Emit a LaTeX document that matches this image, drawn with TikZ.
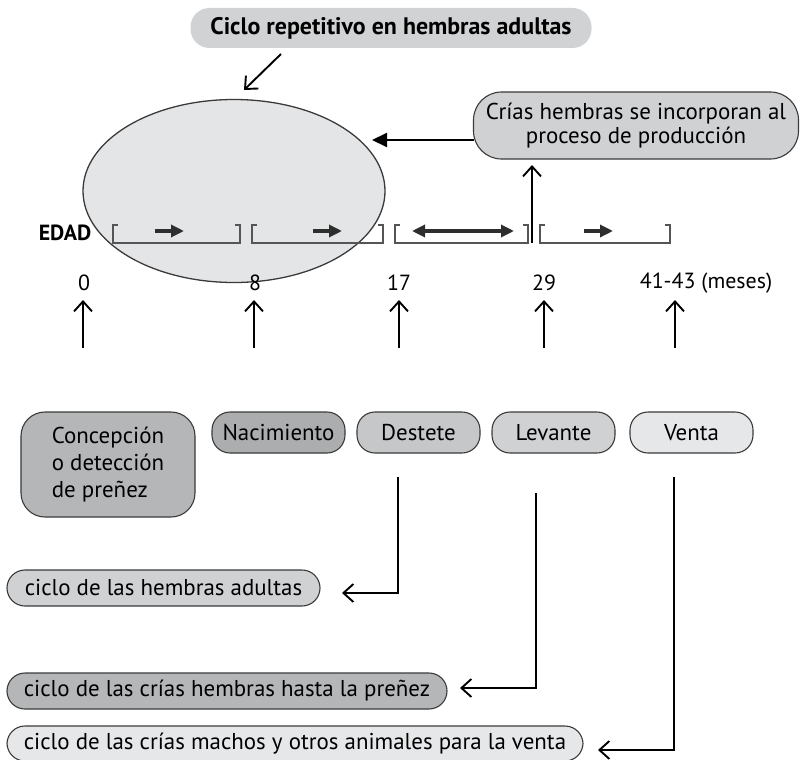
\documentclass[tikz,border=0pt]{standalone}
\usepackage{fontspec}
\setmainfont{PT Sans}
\usetikzlibrary{arrows.meta,shapes.geometric}
\definecolor{edge}{HTML}{3A3A3A}
\definecolor{gtitle}{HTML}{D1D2D4}
\definecolor{gell}{HTML}{E4E5E7}
\definecolor{gmid}{HTML}{D0D1D3}
\definecolor{gdark}{HTML}{B5B6B8}
\definecolor{gdest}{HTML}{C6C7C9}
\definecolor{glight}{HTML}{E6E7E8}
\definecolor{brk}{HTML}{555555}
\definecolor{darr}{HTML}{2E2E2E}
\begin{document}
\begin{tikzpicture}[x=1bp,y=-1bp,
  font=\fontsize{23}{26}\selectfont,
  pill/.style={draw=edge, line width=1.1bp, rounded corners=18bp, minimum height=41bp, inner sep=0pt},
  openarr/.style={-{Straight Barb[length=10bp,width=18bp,line width=1.9bp]}, line width=1.9bp, draw=black},
  fillarr/.style={-{Triangle[length=15bp,width=14bp]}, line width=2bp, draw=black},
  smallarr/.style={-{Triangle[length=13bp,width=12bp]}, line width=3.2bp, draw=darr},
  dblarr/.style={{Triangle[length=13bp,width=12bp]}-{Triangle[length=13bp,width=12bp]}, line width=3.2bp, draw=darr},
  brack/.style={draw=brk, line width=1.3bp},
  num/.style={inner sep=1pt, font=\fontsize{22}{24}\selectfont}]
\useasboundingbox (0,0) rectangle (801,760);

% title and cycle
\node[fill=gtitle, rounded corners=19bp, minimum width=401bp, minimum height=40bp, inner sep=0pt, font=\fontsize{24}{26}\selectfont\bfseries] (title) at (391,28) {Ciclo repetitivo en hembras adultas};
\node[ellipse, draw=edge, line width=1.3bp, fill=gell, minimum width=302bp, minimum height=183bp, inner sep=0pt] (cyc) at (234,191) {};
\coordinate (sa) at (281,54);
\coordinate (sb) at (244,90);
\draw[openarr] (sa) -- (sb);

% crias box
\node[pill, fill=gmid, minimum width=325bp, minimum height=67bp, rounded corners=28bp, align=center, font=\fontsize{23}{25}\selectfont] (crias) at (636,125.5) {Crías hembras se incorporan al\\proceso de producción};
\coordinate (cw) at (474,140);
\coordinate (ce) at (372,140);
\draw[fillarr] (cw) -- (ce);
\coordinate (up1) at (532,243);
\coordinate (up2) at (532,165);
\draw[openarr] (up1) -- (up2);

% EDAD and brackets
\node[font=\fontsize{22}{24}\selectfont\bfseries, inner sep=0pt] (edad) at (65,233) {EDAD};
\foreach \a/\b in {113/240, 252/383, 395/528, 540/670}{
  \draw[brack] (\a+5,225) -- (\a,225) -- (\a,243) -- (\b,243) -- (\b,225) -- (\b-5,225);
}
\coordinate (r1a) at (155,231); \coordinate (r1b) at (184,231);
\draw[smallarr] (r1a) -- (r1b);
\coordinate (r2a) at (313,231); \coordinate (r2b) at (342,231);
\draw[smallarr] (r2a) -- (r2b);
\coordinate (r3a) at (412,231); \coordinate (r3b) at (514,231);
\draw[dblarr] (r3a) -- (r3b);
\coordinate (r4a) at (584,231); \coordinate (r4b) at (613,231);
\draw[smallarr] (r4a) -- (r4b);

% ages
\node[num] (n0) at (84,283) {0};
\node[num] (n8) at (255,283) {8};
\node[num] (n17) at (399,283) {17};
\node[num] (n29) at (544,283) {29};
\node[num] (n41) at (706,283) {41-43 (meses)};
\foreach \x/\n in {83/a0, 254/a8, 399/a17, 544/a29, 675/a41}{
  \coordinate (\n) at (\x,348);
  \coordinate (\n t) at (\x,300);
  \draw[openarr] (\n) -- (\n t);
}

% stage boxes
\node[pill, fill=gdark, minimum width=174bp, minimum height=105bp, rounded corners=24bp, align=left, font=\fontsize{23}{27.5}\selectfont] (conc) at (108,464.5) {Concepción\\o detección\\de preñez};
\node[pill, fill=gdark!95!black, minimum width=133bp] (nac) at (278.5,432.5) {Nacimiento};
\node[pill, fill=gdest, minimum width=123bp] (dest) at (418.5,432.5) {Destete};
\node[pill, fill=gmid, minimum width=123bp] (lev) at (553.5,432.5) {Levante};
\node[pill, fill=glight, minimum width=123bp] (ven) at (691.5,432.5) {Venta};

% cycle boxes
\node[pill, fill=gmid, minimum width=313bp, minimum height=36bp] (chem) at (163.5,588) {ciclo de las hembras adultas};
\node[pill, fill=gdark, minimum width=440bp, minimum height=36bp] (ccri) at (227,691) {ciclo de las crías hembras hasta la preñez};
\node[pill, fill=glight, minimum width=576bp, minimum height=35bp] (cmac) at (295,743.5) {ciclo de las crías machos y otros animales para la venta};

% connectors to cycle boxes
\coordinate (d1) at (398,477); \coordinate (d2) at (398,593); \coordinate (d3) at (342,593);
\draw[openarr] (d1) -- (d2) -- (d3);
\coordinate (l1) at (536,493); \coordinate (l2) at (536,688); \coordinate (l3) at (460,688);
\draw[openarr] (l1) -- (l2) -- (l3);
\coordinate (v1) at (674,477); \coordinate (v2) at (674,750); \coordinate (v3) at (598,750);
\draw[openarr] (v1) -- (v2) -- (v3);
\end{tikzpicture}
\end{document}
